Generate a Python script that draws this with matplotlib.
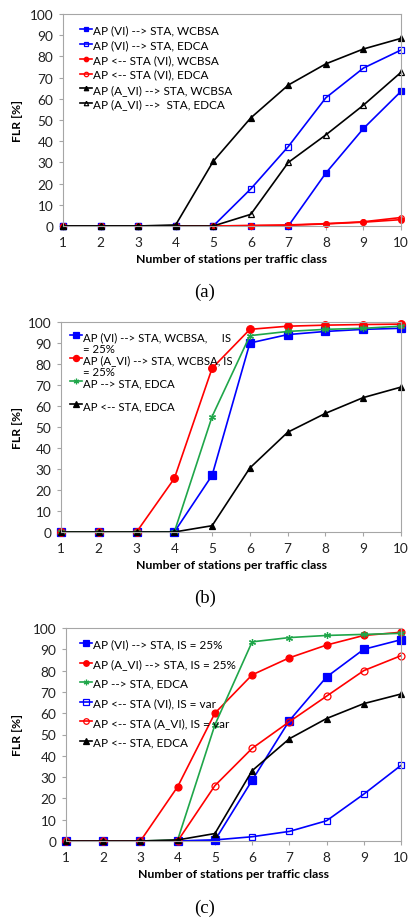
import numpy as np
import matplotlib
matplotlib.use("Agg")
import matplotlib.pyplot as plt

plt.rcParams['font.family'] = ['Lato', 'DejaVu Sans']

stations = [1, 2, 3, 4, 5, 6, 7, 8, 9, 10]
y_ticks = list(range(0, 101, 10))

# panel (a)
a_labels = ['AP (VI) --> STA, WCBSA', 'AP (VI) --> STA, EDCA',
            'AP <-- STA (VI), WCBSA', 'AP <-- STA (VI), EDCA',
            'AP (A_VI) --> STA, WCBSA', 'AP (A_VI) -->  STA, EDCA']
a_vi_dl_wcbsa = [0, 0, 0, 0, 0, 0, 0, 25, 46, 63.5]
a_vi_dl_edca = [0, 0, 0, 0, 0, 17.5, 37.5, 60.5, 74.5, 83]
a_vi_ul_wcbsa = [0, 0, 0, 0, 0, 0.2, 0.3, 1, 1.8, 3]
a_vi_ul_edca = [0, 0, 0, 0, 0, 0.2, 0.5, 1.1, 2, 4]
a_avi_dl_wcbsa = [0, 0, 0, 0.5, 30.5, 51, 66.5, 76.5, 83.5, 88.5]
a_avi_dl_edca = [0, 0, 0, 0, 0, 5.5, 30, 43, 57, 72.5]

# panel (b)
b_labels = ['AP (VI) --> STA, WCBSA,     IS\n= 25%',
            'AP (A_VI) --> STA, WCBSA, IS\n= 25%',
            'AP --> STA, EDCA\n ', 'AP <-- STA, EDCA\n ']
b_vi_dl = [0, 0, 0, 0, 27, 90, 94, 95.5, 96.5, 97]
b_avi_dl = [0, 0, 0, 25.5, 78, 96.5, 98, 98.5, 98.8, 99]
b_dl_edca = [0, 0, 0, 0, 55, 93.5, 95.5, 96.5, 97, 98]
b_ul_edca = [0, 0, 0, 0, 3, 30.5, 47.5, 56.5, 64, 69]

# panel (c)
c_labels = ['AP (VI) --> STA, IS = 25%', 'AP (A_VI) --> STA, IS = 25%',
            'AP --> STA, EDCA', 'AP <-- STA (VI), IS = var',
            'AP <-- STA (A_VI), IS = var', 'AP <-- STA, EDCA']
c_vi_dl = [0, 0, 0, 0, 0.3, 28.5, 56.5, 77, 90, 94.5]
c_avi_dl = [0, 0, 0, 25.5, 60, 78, 86, 92, 96.5, 98]
c_dl_edca = [0, 0, 0, 0.5, 54.5, 93.5, 95.5, 96.5, 97, 97.5]
c_vi_ul = [0, 0, 0, 0, 0.5, 2, 4.5, 9.5, 22, 35.5]
c_avi_ul = [0, 0, 0, 0, 26, 43.5, 56, 68, 80, 87]
c_ul_edca = [0, 0, 0, 0.5, 3.5, 33, 48, 57.5, 64.5, 69]

BLUE = '#0000ff'
RED = '#ff0000'
GREEN = '#1fa64a'
BLACK = '#000000'
STAR = (6, 2, 0)

W, H = 409, 920
fig = plt.figure(figsize=(W / 100, H / 100), dpi=100)


def make_axes(left, top, right, bottom):
    ax = fig.add_axes([left / W, 1 - bottom / H, (right - left) / W, (bottom - top) / H])
    ax.set_xlim(1, 10)
    ax.set_ylim(0, 100)
    ax.set_xticks(stations)
    ax.set_yticks(y_ticks)
    for s in ax.spines.values():
        s.set_color('#a6a6a6')
        s.set_linewidth(0.8)
    ax.tick_params(axis='both', colors='#a6a6a6', labelcolor='#222222',
                   labelsize=9.8, length=3, width=0.8)
    ax.tick_params(axis='y', pad=4)
    ax.tick_params(axis='x', pad=4)
    ax.set_xlabel('Number of stations per traffic class', fontsize=8.8, fontweight='bold')
    ax.set_ylabel('FLR [%]', fontsize=8.8, fontweight='bold')
    hgt = bottom - top
    wid = right - left
    ax.xaxis.set_label_coords(0.5, -(27 / hgt))
    ax.yaxis.set_label_coords(-(left - 23) / wid, 0.5)
    return ax


def series(ax, y, color, marker, filled=True, ms=4, lw=1.2, label=None):
    ax.plot(stations, y, color=color, lw=lw, marker=marker, markersize=ms,
            markerfacecolor=color if filled else 'none', markeredgecolor=color,
            markeredgewidth=0.9, label=label, clip_on=False)


# (a)
ax = make_axes(63, 15, 401, 227)
series(ax, a_vi_dl_wcbsa, BLUE, 's', label=a_labels[0])
series(ax, a_vi_dl_edca, BLUE, 's', filled=False, label=a_labels[1])
series(ax, a_vi_ul_wcbsa, RED, 'o', label=a_labels[2])
series(ax, a_vi_ul_edca, RED, 'o', filled=False, label=a_labels[3])
series(ax, a_avi_dl_wcbsa, BLACK, '^', label=a_labels[4])
series(ax, a_avi_dl_edca, BLACK, '^', filled=False, label=a_labels[5])
ax.legend(loc='upper left', bbox_to_anchor=(0.02, 1.0), frameon=False, fontsize=8.5,
          handlelength=1.0, handletextpad=0.1, labelspacing=0.33, borderpad=0.35,
          markerscale=0.8)
fig.text(205 / W, 1 - 292 / H, '(a)', ha='center', va='center', fontsize=13.5,
         family='Liberation Serif')

# (b)
ax = make_axes(61, 323, 401, 533)
series(ax, b_vi_dl, BLUE, 's', ms=5.5, label=b_labels[0])
series(ax, b_avi_dl, RED, 'o', ms=5.5, label=b_labels[1])
series(ax, b_dl_edca, GREEN, STAR, ms=5, label=b_labels[2])
series(ax, b_ul_edca, BLACK, '^', ms=5, label=b_labels[3])
leg = ax.legend(loc='upper left', bbox_to_anchor=(0.0, 1.0), frameon=False, fontsize=8.2,
                handlelength=1.0, handletextpad=0.1, labelspacing=0.05, borderpad=0.3,
                markerscale=0.8)
for t in leg.get_texts():
    t.set_linespacing(1.05)
for col in leg._legend_handle_box.get_children():
    for row in col.get_children():
        row.align = 'top'
fig.text(205 / W, 1 - 598 / H, '(b)', ha='center', va='center', fontsize=13.5,
         family='Liberation Serif')

# (c)
ax = make_axes(66, 629, 401, 842)
series(ax, c_vi_dl, BLUE, 's', ms=5.5, label=c_labels[0])
series(ax, c_avi_dl, RED, 'o', ms=5, label=c_labels[1])
series(ax, c_dl_edca, GREEN, STAR, ms=5, label=c_labels[2])
series(ax, c_vi_ul, BLUE, 's', filled=False, ms=5, label=c_labels[3])
series(ax, c_avi_ul, RED, 'o', filled=False, ms=5, label=c_labels[4])
series(ax, c_ul_edca, BLACK, '^', ms=5, label=c_labels[5])
ax.legend(loc='upper left', bbox_to_anchor=(0.01, 1.0), frameon=False, fontsize=8.5,
          handlelength=1.0, handletextpad=0.1, labelspacing=0.72, borderpad=0.4,
          markerscale=0.8)
fig.text(205 / W, 1 - 908 / H, '(c)', ha='center', va='center', fontsize=13.5,
         family='Liberation Serif')

fig.savefig('out.png', dpi=100)
